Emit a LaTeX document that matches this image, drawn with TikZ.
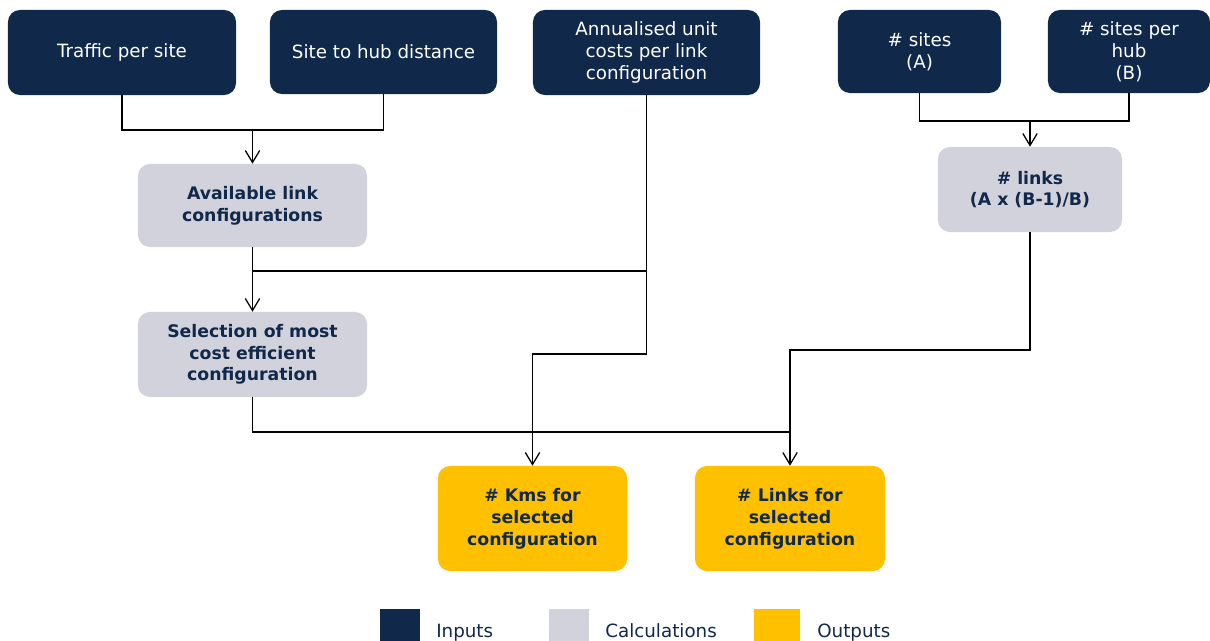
\documentclass[tikz,border=0pt]{standalone}
\usepackage{fontspec}
\setmainfont{DejaVu Sans}
\usetikzlibrary{arrows.meta}
\usepackage{xcolor}
\definecolor{navy}{HTML}{10284A}
\definecolor{calcgray}{HTML}{D2D2DC}
\definecolor{outyellow}{HTML}{FFC000}

\begin{document}
\begin{tikzpicture}[x=0.025cm, y=-0.025cm,
		inbox/.style={fill=navy, text=white, rounded corners=0.3cm, align=center, inner sep=0pt,
			font=\fontsize{13}{15.6}\selectfont},
		calcbox/.style={fill=calcgray, text=navy, rounded corners=0.3cm, align=center, inner sep=0pt,
			font=\fontsize{12.3}{15.4}\selectfont\bfseries},
		outbox/.style={fill=outyellow, text=navy, rounded corners=0.3cm, align=center, inner sep=0pt,
			font=\fontsize{12.3}{15.6}\selectfont\bfseries},
		legtext/.style={text=navy, anchor=base west, inner sep=0pt, font=\fontsize{13}{15.6}\selectfont},
		wire/.style={line width=0.9pt},
		arr/.style={wire, -{Straight Barb[length=0.3cm, width=0.36cm]}}]
				\clip (0,0) rectangle (1210,640);
				% Paths, nodes and wires:
				\node[inbox, minimum width=5.7cm, minimum height=2.125cm] (traffic) at (122,52.5) {Traffic per site};
				\node[inbox, minimum width=5.675cm, minimum height=2.1cm] (site) at (383.5,52) {Site to hub distance};
				\node[inbox, minimum width=5.675cm, minimum height=2.125cm] (annual) at (646.5,52.5) {Annualised unit\\costs per link\\configuration};
				\node[inbox, minimum width=4.075cm, minimum height=2.075cm] (sites) at (919.5,51.5) {\# sites\\(A)};
				\node[inbox, minimum width=4.05cm, minimum height=2.075cm] (perhub) at (1129,51.5) {\# sites per\\hub\\(B)};
				\node[calcbox, minimum width=5.725cm, minimum height=2.075cm] (avail) at (252.5,205.5) {Available link\\configurations};
				\node[calcbox, minimum width=5.725cm, minimum height=2.125cm] (select) at (252.5,354.5) {Selection of most\\cost efficient\\configuration};
				\node[calcbox, minimum width=4.6cm, minimum height=2.125cm] (links) at (1030,189.5) {\# links\\(A x (B-1)/B)};
				\node[outbox, minimum width=4.725cm, minimum height=2.625cm] (kms) at (532.5,518.5) {\# Kms for\\selected\\configuration};
				\node[outbox, minimum width=4.75cm, minimum height=2.625cm] (linkssel) at (790,518.5) {\# Links for\\selected\\configuration};
				\coordinate (j1) at (252.5,130);
				\coordinate (j2) at (1030,121);
				\draw[wire] (traffic.south) |- (j1) -| (site.south);
				\draw[arr] (j1) -- (avail.north);
				\draw[wire] (sites.south) |- (j2) -| (perhub.south);
				\draw[arr] (j2) -- (links.north);
				\draw[wire] (avail.south) -- (avail.south |- 0,271);
				\draw[arr] (annual.south |- 0,271) -| (select.north);
				\draw[arr] (annual.south) -- (annual.south |- 0,354) -| (kms.north);
				\draw[arr] (links.south) -- (links.south |- 0,350) -| (linkssel.north);
				\draw[wire] (select.south) |- (linkssel.north |- 0,432);
				% Legend:
				\node[fill=navy, minimum size=1cm, inner sep=0pt] (legin) at (400,629) {};
				\node[legtext] (legintext) at (436,637) {Inputs};
				\node[fill=calcgray, minimum size=1cm, inner sep=0pt] (legcalc) at (568.5,629) {};
				\node[legtext] (legcalctext) at (605,637) {Calculations};
				\node[fill=outyellow, minimum width=1.15cm, minimum height=1cm, inner sep=0pt] (legout) at (777,629) {};
				\node[legtext] (legouttext) at (817,637) {Outputs};
			\end{tikzpicture}
\end{document}
